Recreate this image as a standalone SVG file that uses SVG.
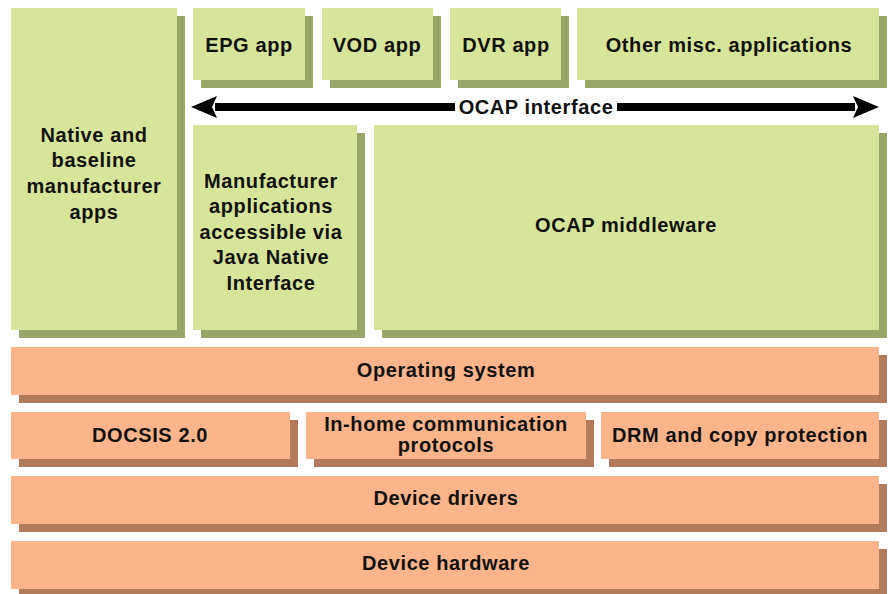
<svg xmlns="http://www.w3.org/2000/svg" width="888" height="594" viewBox="0 0 888 594">
<defs>
<style>
.g{fill:#d7e59a}
.gs{fill:#99a66a}
.o{fill:#fcb48a}
.os{fill:#b27b5c}
text{font-family:"Liberation Sans",Arial,sans-serif;font-weight:bold;font-size:20px;letter-spacing:0.6px;fill:#111;text-anchor:middle}
.conn{stroke:#000;stroke-width:8;fill:none}
</style>
<marker id="ah" viewBox="0 0 26 22" refX="2" refY="11" markerWidth="26" markerHeight="22" markerUnits="userSpaceOnUse" orient="auto-start-reverse">
<path d="M0,0 L26,11 L0,22 L5,11 Z" fill="#000"/>
</marker>
</defs>
<rect width="888" height="594" fill="#fff"/>

<g id="native">
<rect class="gs" x="19" y="16" width="166" height="322"/>
<rect class="g" x="11" y="8" width="166" height="322"/>
<text x="94" y="142">Native and</text>
<text x="94" y="167">baseline</text>
<text x="94" y="193">manufacturer</text>
<text x="94" y="219">apps</text>
</g>

<g id="epg">
<rect class="gs" x="201" y="16" width="112" height="72"/>
<rect class="g" x="193" y="8" width="112" height="72"/>
<text x="249" y="52">EPG app</text>
</g>

<g id="vod">
<rect class="gs" x="330" y="16" width="111" height="72"/>
<rect class="g" x="322" y="8" width="111" height="72"/>
<text x="377" y="52">VOD app</text>
</g>

<g id="dvr">
<rect class="gs" x="458" y="16" width="111" height="72"/>
<rect class="g" x="450" y="8" width="111" height="72"/>
<text x="506" y="52">DVR app</text>
</g>

<g id="other">
<rect class="gs" x="585" y="16" width="302" height="72"/>
<rect class="g" x="577" y="8" width="302" height="72"/>
<text x="729" y="52">Other misc. applications</text>
</g>

<g id="connectors">
<path class="conn" d="M215,107 H855" marker-start="url(#ah)" marker-end="url(#ah)"/>
<rect x="455" y="95" width="162" height="24" fill="#fff"/>
<text x="536" y="114">OCAP interface</text>
</g>

<g id="manufacturer">
<rect class="gs" x="201" y="133" width="164" height="205"/>
<rect class="g" x="193" y="125" width="164" height="205"/>
<text x="271" y="188">Manufacturer</text>
<text x="271" y="213">applications</text>
<text x="271" y="239">accessible via</text>
<text x="271" y="264">Java Native</text>
<text x="271" y="290">Interface</text>
</g>

<g id="middleware">
<rect class="gs" x="382" y="133" width="505" height="205"/>
<rect class="g" x="374" y="125" width="505" height="205"/>
<text x="626" y="232">OCAP middleware</text>
</g>

<g id="os">
<rect class="os" x="19" y="355" width="868" height="48"/>
<rect class="o" x="11" y="347" width="868" height="48"/>
<text x="446" y="377">Operating system</text>
</g>

<g id="docsis">
<rect class="os" x="19" y="420" width="279" height="47"/>
<rect class="o" x="11" y="412" width="279" height="47"/>
<text x="150" y="442">DOCSIS 2.0</text>
</g>

<g id="inhome">
<rect class="os" x="314" y="420" width="280" height="47"/>
<rect class="o" x="306" y="412" width="280" height="47"/>
<text x="446" y="431">In-home communication</text>
<text x="446" y="452">protocols</text>
</g>

<g id="drm">
<rect class="os" x="609" y="420" width="278" height="47"/>
<rect class="o" x="601" y="412" width="278" height="47"/>
<text x="740" y="442">DRM and copy protection</text>
</g>

<g id="drivers">
<rect class="os" x="19" y="484" width="868" height="48"/>
<rect class="o" x="11" y="476" width="868" height="48"/>
<text x="446" y="505">Device drivers</text>
</g>

<g id="hardware">
<rect class="os" x="19" y="549" width="868" height="48"/>
<rect class="o" x="11" y="541" width="868" height="48"/>
<text x="446" y="570">Device hardware</text>
</g>
</svg>
